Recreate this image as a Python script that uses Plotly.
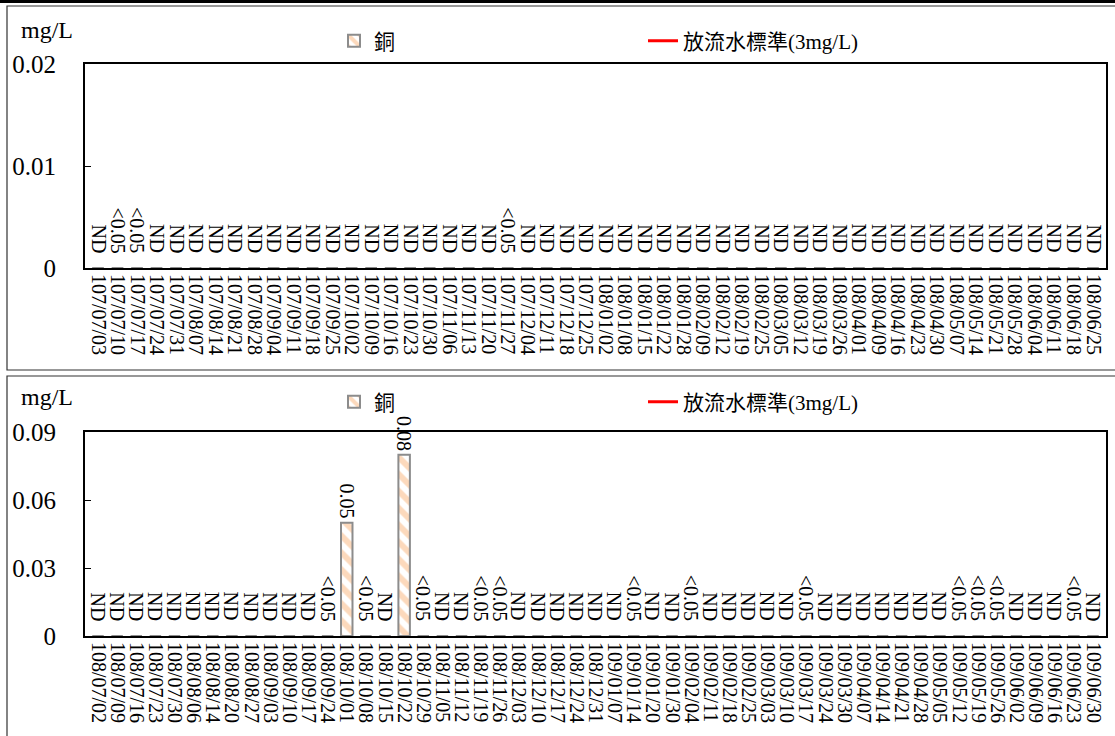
import plotly.graph_objects as go

# %% data
dates_top = ["107/07/03", "107/07/10", "107/07/17", "107/07/24", "107/07/31", "107/08/07",
             "107/08/14", "107/08/21", "107/08/28", "107/09/04", "107/09/11", "107/09/18",
             "107/09/25", "107/10/02", "107/10/09", "107/10/16", "107/10/23", "107/10/30",
             "107/11/06", "107/11/13", "107/11/20", "107/11/27", "107/12/04", "107/12/11",
             "107/12/18", "107/12/25", "108/01/02", "108/01/08", "108/01/15", "108/01/22",
             "108/01/28", "108/02/09", "108/02/12", "108/02/19", "108/02/25", "108/03/05",
             "108/03/12", "108/03/19", "108/03/26", "108/04/01", "108/04/09", "108/04/16",
             "108/04/23", "108/04/30", "108/05/07", "108/05/14", "108/05/21", "108/05/28",
             "108/06/04", "108/06/11", "108/06/18", "108/06/25"]
copper_top = [0] * 52
labels_top = ["ND", "<0.05", "<0.05"] + ["ND"] * 18 + ["<0.05"] + ["ND"] * 30

dates_bot = ["108/07/02", "108/07/09", "108/07/16", "108/07/23", "108/07/30", "108/08/06",
             "108/08/14", "108/08/20", "108/08/27", "108/09/03", "108/09/10", "108/09/17",
             "108/09/24", "108/10/01", "108/10/08", "108/10/15", "108/10/22", "108/10/29",
             "108/11/05", "108/11/12", "108/11/19", "108/11/26", "108/12/03", "108/12/10",
             "108/12/17", "108/12/24", "108/12/31", "109/01/07", "109/01/14", "109/01/20",
             "109/01/30", "109/02/04", "109/02/11", "109/02/18", "109/02/25", "109/03/03",
             "109/03/10", "109/03/17", "109/03/24", "109/03/30", "109/04/07", "109/04/14",
             "109/04/21", "109/04/28", "109/05/05", "109/05/12", "109/05/19", "109/05/26",
             "109/06/02", "109/06/09", "109/06/16", "109/06/23", "109/06/30"]
copper_bot = [0] * 53
copper_bot[13] = 0.05
copper_bot[16] = 0.08
labels_bot = (["ND"] * 12 + ["<0.05", "0.05", "<0.05", "ND", "0.08", "<0.05", "ND", "ND",
               "<0.05", "<0.05"] + ["ND"] * 6 + ["<0.05"] + ["ND"] * 2 + ["<0.05"]
              + ["ND"] * 5 + ["<0.05"] + ["ND"] * 7 + ["<0.05", "<0.05", "<0.05"]
              + ["ND"] * 3 + ["<0.05", "ND"])

standard = 3  # 放流水標準 mg/L

# %% figure
SERIF = "Liberation Serif, Noto Sans CJK TC"
W, H = 1115, 736

fig = go.Figure()

bar_style = dict(
    marker=dict(color="white", line=dict(color="#8c8c8c", width=2),
                pattern=dict(shape="\\", fgcolor="#F9B47A", bgcolor="white",
                             size=12, solidity=0.5)),
    width=0.6,
)

fig.add_trace(go.Bar(x=dates_top, y=copper_top, name="銅", xaxis="x", yaxis="y",
                     legend="legend", **bar_style))
fig.add_trace(go.Scatter(x=dates_top, y=[standard] * len(dates_top), name="放流水標準(3mg/L)",
                         mode="lines", line=dict(color="red", width=3),
                         xaxis="x", yaxis="y", legend="legend"))
fig.add_trace(go.Bar(x=dates_bot, y=copper_bot, name="銅", xaxis="x2", yaxis="y2",
                     legend="legend2", **bar_style))
fig.add_trace(go.Scatter(x=dates_bot, y=[standard] * len(dates_bot), name="放流水標準(3mg/L)",
                         mode="lines", line=dict(color="red", width=3),
                         xaxis="x2", yaxis="y2", legend="legend2"))

# data labels
anns = []
for xs, ys, labs, xr, yr in [(dates_top, copper_top, labels_top, "x", "y"),
                             (dates_bot, copper_bot, labels_bot, "x2", "y2")]:
    for d, v, t in zip(xs, ys, labs):
        anns.append(dict(x=d, y=v, xref=xr, yref=yr, text=t.replace("<", "&lt;"),
                         showarrow=False, textangle=90, yanchor="bottom",
                         yshift=13 if v == 0 else 2,
                         font=dict(family=SERIF, size=20, color="black")))

# "mg/L" unit labels
for yp in [1 - 30 / H, 1 - 397 / H]:
    anns.append(dict(x=19 / W, y=yp, xref="paper", yref="paper", text="mg/L",
                     showarrow=False, xanchor="left", yanchor="middle",
                     font=dict(family=SERIF, size=24, color="black")))

dom_x = [85 / W, 1106 / W]
axis_x = dict(type="category", tickangle=90, tickmode="linear", dtick=1, automargin=False,
              showline=True, linecolor="black", linewidth=2, mirror=True,
              ticks="", showgrid=False,
              tickfont=dict(family=SERIF, size=20, color="black"))
axis_y = dict(showline=True, linecolor="black", linewidth=2, mirror=True, automargin=False,
              ticks="inside", ticklen=6, tickcolor="black", showgrid=False, zeroline=False,
              tickfont=dict(family=SERIF, size=25, color="black"), ticklabelstandoff=22)

legend_style = dict(orientation="h", xanchor="left", yanchor="middle", entrywidth=264,
                    font=dict(family=SERIF, size=21, color="black"),
                    bgcolor="rgba(0,0,0,0)", itemwidth=30)

fig.update_layout(
    width=W, height=H,
    margin=dict(l=0, r=0, t=0, b=0, autoexpand=False),
    paper_bgcolor="white", plot_bgcolor="white",
    barmode="group",
    xaxis=dict(domain=dom_x, anchor="y", **axis_x),
    yaxis=dict(domain=[1 - 268 / H, 1 - 64 / H], anchor="x", range=[0, 0.02],
               tickvals=[0, 0.01, 0.02], ticktext=["0", "0.01", "0.02"], **axis_y),
    xaxis2=dict(domain=dom_x, anchor="y2", **axis_x),
    yaxis2=dict(domain=[1 - 636 / H, 1 - 432 / H], anchor="x2", range=[0, 0.09],
                tickvals=[0, 0.03, 0.06, 0.09], ticktext=["0", "0.03", "0.06", "0.09"], **axis_y),
    legend=dict(x=334 / W, y=1 - 41 / H, **legend_style),
    legend2=dict(x=334 / W, y=1 - 402 / H, **legend_style),
    annotations=anns,
    showlegend=True,
)

# panel frames
fig.add_shape(type="line", xref="paper", yref="paper", x0=0, x1=1,
              y0=1 - 1.5 / H, y1=1 - 1.5 / H, line=dict(color="black", width=3))
fig.add_shape(type="rect", xref="paper", yref="paper", x0=7 / W, x1=1.01,
              y0=1 - 370 / H, y1=1 - 6 / H, line=dict(color="#333333", width=1.2))
fig.add_shape(type="rect", xref="paper", yref="paper", x0=7 / W, x1=1.01,
              y0=-0.01, y1=1 - 376 / H, line=dict(color="#333333", width=1.2))

# remove the page margin so the figure sits at the window origin
fig.write_html("out.html", config={"displayModeBar": False},
               post_script="document.body.style.margin='0';document.body.style.overflow='hidden';")
